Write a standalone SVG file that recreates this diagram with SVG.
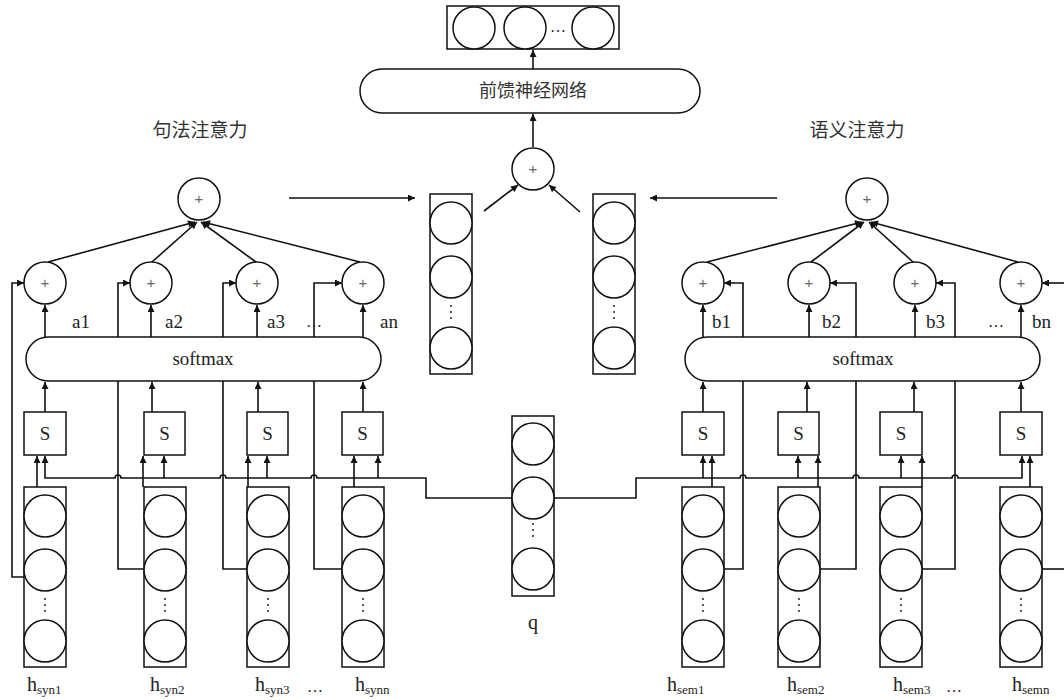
<svg xmlns="http://www.w3.org/2000/svg" width="1064" height="700" viewBox="0 0 1064 700">
<style>
.ln{fill:none;stroke:#111;stroke-width:1.6}
.arr{fill:none;stroke:#111;stroke-width:1.6;marker-end:url(#ah)}
.sh{fill:#fff;stroke:#111;stroke-width:1.5}
.t{font-family:"Liberation Serif","Times New Roman",serif;fill:#222}
.cjk{font-family:"Noto Sans CJK SC","Noto Sans",sans-serif;fill:#333;font-size:18px}
.pl{font-family:"Liberation Sans",sans-serif;font-size:15px;fill:#666;text-anchor:middle}
.dots{font-family:"Liberation Serif",serif;font-size:16px;fill:#222}
.hl{font-size:20px}
.sub{font-size:13px}
</style>
<defs>
<marker id="ah" viewBox="0 0 10 10" refX="10" refY="5" markerWidth="9" markerHeight="7" markerUnits="userSpaceOnUse" orient="auto"><path d="M0,0 L10,5 L0,10 z" fill="#111"/></marker>
<g id="vcol"><rect class="sh" x="0" y="0" width="42" height="180"/><circle class="sh" cx="21" cy="29" r="21"/><circle class="sh" cx="21" cy="83" r="21"/><circle class="sh" cx="21" cy="154" r="21"/><circle cx="21" cy="112" r="1" fill="#222"/><circle cx="21" cy="118" r="1" fill="#222"/><circle cx="21" cy="124" r="1" fill="#222"/></g>
</defs>
<rect width="1064" height="700" fill="#fff"/>

<g id="connectors">
<path class="arr" d="M533,69 L533,50"/>
<path class="arr" d="M533,147 L533,114"/>
<path class="arr" d="M484,211 L518,185"/>
<path class="arr" d="M580,212 L549,185"/>
<path class="arr" d="M289,198 L415,198"/>
<path class="arr" d="M777,198 L650,198"/>
<path class="arr" d="M48,262 L195,222"/>
<path class="arr" d="M152,262 L197,222"/>
<path class="arr" d="M256,262 L201,222"/>
<path class="arr" d="M360,262 L203,222"/>
<path class="arr" d="M707,262 L862,222"/>
<path class="arr" d="M811,262 L864,222"/>
<path class="arr" d="M913,262 L869,222"/>
<path class="arr" d="M1018,262 L871,222"/>
<path class="arr" d="M45,337 L45,305"/>
<path class="arr" d="M151,337 L151,305"/>
<path class="arr" d="M257,337 L257,305"/>
<path class="arr" d="M363,337 L363,305"/>
<path class="arr" d="M703,337 L703,305"/>
<path class="arr" d="M809,337 L809,305"/>
<path class="arr" d="M915,337 L915,305"/>
<path class="arr" d="M1021,337 L1021,305"/>
<path class="arr" d="M45,412 L45,382"/>
<path class="arr" d="M152,412 L152,382"/>
<path class="arr" d="M258,412 L258,382"/>
<path class="arr" d="M363,412 L363,382"/>
<path class="arr" d="M703,412 L703,382"/>
<path class="arr" d="M807,412 L807,382"/>
<path class="arr" d="M914,412 L914,382"/>
<path class="arr" d="M1021,412 L1021,382"/>
<path class="arr" d="M512,498 L426,498 L426,478 L317,478 A3,3 0 0 0 311,478 L226,478 A3,3 0 0 0 220,478 L121,478 A3,3 0 0 0 115,478 L45,478 L45,456"/>
<path class="arr" d="M164,478 L164,456"/>
<path class="arr" d="M267,478 L267,456"/>
<path class="arr" d="M378,478 L378,456"/>
<path class="arr" d="M554,498 L636,498 L636,478 L740,478 A3,3 0 0 1 746,478 L853,478 A3,3 0 0 1 859,478 L952,478 A3,3 0 0 1 958,478 L1022,478 L1022,456"/>
<path class="arr" d="M703,478 L703,456"/>
<path class="arr" d="M798,478 L798,456"/>
<path class="arr" d="M901,478 L901,456"/>
<path class="arr" d="M37,487 L37,456"/>
<path class="arr" d="M143,487 L143,456"/>
<path class="arr" d="M248,487 L248,456"/>
<path class="arr" d="M354,487 L354,456"/>
<path class="arr" d="M712,487 L712,456"/>
<path class="arr" d="M818,487 L818,456"/>
<path class="arr" d="M922,487 L922,456"/>
<path class="arr" d="M1030,487 L1030,456"/>
<path class="arr" d="M26,577 L12,577 L12,283 L24,283"/>
<path class="arr" d="M144,569 L118,569 L118,283 L130,283"/>
<path class="arr" d="M247,569 L223,569 L223,283 L236,283"/>
<path class="arr" d="M342,569 L314,569 L314,283 L342,283"/>
<path class="arr" d="M724,569 L743,569 L743,283 L724,283"/>
<path class="arr" d="M819,569 L856,569 L856,283 L830,283"/>
<path class="arr" d="M922,569 L955,569 L955,283 L936,283"/>
<path class="ln" d="M1042,569 L1066,569"/>
<path class="arr" d="M1066,283 L1042,283"/>
</g>

<g id="out-vec">
<rect class="sh" x="447" y="6" width="172" height="43"/>
<circle class="sh" cx="474" cy="28" r="21"/>
<circle class="sh" cx="525" cy="28" r="21"/>
<circle class="sh" cx="593" cy="28" r="21"/>
<text class="dots" x="558" y="32" text-anchor="middle">…</text>
</g>
<g id="ffn">
<rect class="sh" x="360" y="69" width="340" height="44" rx="22"/>
<text class="cjk" x="533" y="97" text-anchor="middle">前馈神经网络</text>
</g>
<g id="merge-plus">
<circle class="sh" cx="533" cy="169" r="21"/><text class="pl" x="533" y="174">+</text>
</g>
<g id="syn-vec"><use href="#vcol" x="430" y="194"/></g>
<g id="sem-vec"><use href="#vcol" x="593" y="194"/></g>
<g id="q-vec">
<rect class="sh" x="512" y="416" width="42" height="180"/>
<circle class="sh" cx="533" cy="444" r="21"/>
<circle class="sh" cx="533" cy="498" r="21"/>
<circle class="sh" cx="533" cy="569" r="21"/>
<circle cx="533" cy="524" r="1" fill="#222"/><circle cx="533" cy="530" r="1" fill="#222"/><circle cx="533" cy="536" r="1" fill="#222"/>
<text class="t" x="533" y="629" font-size="20" text-anchor="middle">q</text>
</g>

<g id="title-syn"><text class="cjk" x="200" y="137" text-anchor="middle" style="font-size:19px">句法注意力</text></g>
<g id="title-sem"><text class="cjk" x="857" y="137" text-anchor="middle" style="font-size:19px">语义注意力</text></g>

<g id="syn-sum"><circle class="sh" cx="199" cy="199" r="21"/><text class="pl" x="199" y="204">+</text></g>
<g id="syn-plus-1"><circle class="sh" cx="45" cy="283" r="21"/><text class="pl" x="45" y="288">+</text></g>
<g id="syn-plus-2"><circle class="sh" cx="151" cy="283" r="21"/><text class="pl" x="151" y="288">+</text></g>
<g id="syn-plus-3"><circle class="sh" cx="257" cy="283" r="21"/><text class="pl" x="257" y="288">+</text></g>
<g id="syn-plus-4"><circle class="sh" cx="363" cy="283" r="21"/><text class="pl" x="363" y="288">+</text></g>
<g id="syn-weights" class="t" font-size="19">
<text x="72" y="328">a1</text><text x="165" y="328">a2</text><text x="267" y="328">a3</text><text x="306" y="327" font-size="16">…</text><text x="380" y="328">an</text>
</g>
<g id="syn-softmax"><rect class="sh" x="26" y="337" width="355" height="44" rx="22"/><text class="t" x="203" y="365" font-size="19" text-anchor="middle">softmax</text></g>
<g id="syn-s-1"><rect class="sh" x="24" y="412" width="42" height="43"/><text class="t" x="45" y="440" font-size="19" text-anchor="middle">S</text></g>
<g id="syn-s-2"><rect class="sh" x="144" y="412" width="41" height="43"/><text class="t" x="164.5" y="440" font-size="19" text-anchor="middle">S</text></g>
<g id="syn-s-3"><rect class="sh" x="247" y="412" width="41" height="43"/><text class="t" x="267.5" y="440" font-size="19" text-anchor="middle">S</text></g>
<g id="syn-s-4"><rect class="sh" x="342" y="412" width="41" height="43"/><text class="t" x="362.5" y="440" font-size="19" text-anchor="middle">S</text></g>
<g id="syn-h-1"><use href="#vcol" x="24" y="487"/><text class="t hl" x="27" y="691">h<tspan class="sub" dy="3">syn1</tspan></text></g>
<g id="syn-h-2"><use href="#vcol" x="144" y="487"/><text class="t hl" x="150" y="691">h<tspan class="sub" dy="3">syn2</tspan></text></g>
<g id="syn-h-3"><use href="#vcol" x="247" y="487"/><text class="t hl" x="255" y="691">h<tspan class="sub" dy="3">syn3</tspan></text></g>
<g id="syn-h-4"><use href="#vcol" x="342" y="487"/><text class="t hl" x="355" y="691">h<tspan class="sub" dy="3">synn</tspan></text></g>
<text class="t" x="307" y="692" font-size="16">…</text>

<g id="sem-sum"><circle class="sh" cx="867" cy="199" r="21"/><text class="pl" x="867" y="204">+</text></g>
<g id="sem-plus-1"><circle class="sh" cx="703" cy="283" r="21"/><text class="pl" x="703" y="288">+</text></g>
<g id="sem-plus-2"><circle class="sh" cx="809" cy="283" r="21"/><text class="pl" x="809" y="288">+</text></g>
<g id="sem-plus-3"><circle class="sh" cx="915" cy="283" r="21"/><text class="pl" x="915" y="288">+</text></g>
<g id="sem-plus-4"><circle class="sh" cx="1021" cy="283" r="21"/><text class="pl" x="1021" y="288">+</text></g>
<g id="sem-weights" class="t" font-size="19">
<text x="712" y="328">b1</text><text x="822" y="328">b2</text><text x="926" y="328">b3</text><text x="988" y="327" font-size="16">…</text><text x="1032" y="328">bn</text>
</g>
<g id="sem-softmax"><rect class="sh" x="685" y="337" width="355" height="44" rx="22"/><text class="t" x="863" y="365" font-size="19" text-anchor="middle">softmax</text></g>
<g id="sem-s-1"><rect class="sh" x="682" y="412" width="42" height="43"/><text class="t" x="703" y="440" font-size="19" text-anchor="middle">S</text></g>
<g id="sem-s-2"><rect class="sh" x="778" y="412" width="41" height="43"/><text class="t" x="798.5" y="440" font-size="19" text-anchor="middle">S</text></g>
<g id="sem-s-3"><rect class="sh" x="880" y="412" width="42" height="43"/><text class="t" x="901" y="440" font-size="19" text-anchor="middle">S</text></g>
<g id="sem-s-4"><rect class="sh" x="1000" y="412" width="42" height="43"/><text class="t" x="1021" y="440" font-size="19" text-anchor="middle">S</text></g>
<g id="sem-h-1"><use href="#vcol" x="682" y="487"/><text class="t hl" x="667" y="691">h<tspan class="sub" dy="3">sem1</tspan></text></g>
<g id="sem-h-2"><use href="#vcol" x="778" y="487"/><text class="t hl" x="787" y="691">h<tspan class="sub" dy="3">sem2</tspan></text></g>
<g id="sem-h-3"><use href="#vcol" x="880" y="487"/><text class="t hl" x="893" y="691">h<tspan class="sub" dy="3">sem3</tspan></text></g>
<g id="sem-h-4"><use href="#vcol" x="1000" y="487"/><text class="t hl" x="1012" y="691">h<tspan class="sub" dy="3">semn</tspan></text></g>
<text class="t" x="946" y="692" font-size="16">…</text>
</svg>
